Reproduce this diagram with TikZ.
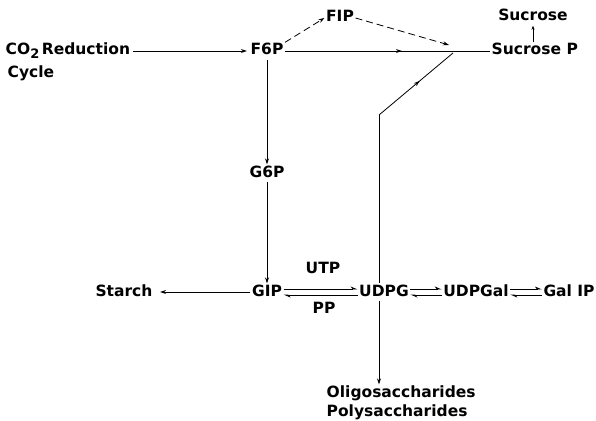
\documentclass[tikz,border=0pt]{standalone}
\usepackage{fontspec}
\setmainfont{DejaVu Sans}
\usetikzlibrary{arrows.meta,decorations.markings,calc}
\tikzset{
  lbl/.style={font=\fontsize{15.5}{18}\selectfont\bfseries, inner sep=1.5pt, text height=11pt, text depth=3pt},
  ln/.style={line width=0.8pt},
  arr/.style={ln,-{Stealth[length=6pt,width=4pt]}},
  harp/.style={ln,-{Stealth[length=6pt,width=5pt,harpoon]}},
  dsh/.style={ln,dash pattern=on 7pt off 4pt},
  midarrow/.style={postaction={decorate},decoration={markings,mark=at position #1 with {\arrow{Stealth[length=6pt,width=4pt]}}}}
}
\begin{document}
\begin{tikzpicture}[x=1pt,y=-1pt]
\useasboundingbox (0,0) rectangle (596,420);
% nodes (anchor base)
\node[lbl,anchor=base west] (co2) at (4,55) {CO\raisebox{-4pt}{\fontsize{13}{13}\selectfont 2}\,Reduction};
\node[lbl,anchor=base west] (cyc) at (6,77) {Cycle};
\node[lbl,anchor=base] (f6p) at (267,55) {F6P};
\node[lbl,anchor=base] (fip) at (340,22) {FIP};
\node[lbl,anchor=base] (suc) at (533,21) {Sucrose};
\node[lbl,anchor=base west] (sucp) at (490,55) {Sucrose P};
\node[lbl,anchor=base] (g6p) at (267,177) {G6P};
\node[lbl,anchor=base] (gip) at (267,296) {GIP};
\node[lbl,anchor=base] (utp) at (323,273) {UTP};
\node[lbl,anchor=base] (pp) at (324,313) {PP};
\node[lbl,anchor=base] (udpg) at (384,296) {UDPG};
\node[lbl,anchor=base] (udpgal) at (476,296) {UDPGal};
\node[lbl,anchor=base] (galip) at (569,296) {Gal IP};
\node[lbl,anchor=base] (starch) at (124,296) {Starch};
\node[lbl,anchor=base west] (oligo) at (325,397) {Oligosaccharides};
\node[lbl,anchor=base west] (poly) at (325,416) {Polysaccharides};
% coordinates
\coordinate (bend) at (379,115);
\coordinate (jj) at (453,53);
\coordinate (jd) at (449,45);
% connectors
\draw[arr,shorten <=1pt,shorten >=2pt] (co2.east) -- (f6p.west);
\draw[dsh,-{Stealth[length=6pt,width=4pt]}] (f6p.north east) -- (fip.west);
\draw[dsh,-{Stealth[length=6pt,width=4pt]}] (fip.east) -- (jd);
\draw[ln,midarrow=0.57] (f6p.east) -- (sucp.west);
\draw[ln] (bend |- udpg.north) -- (bend);
\draw[ln,midarrow=0.55] (bend) -- (jj);
\draw[ln,-{Stealth[length=4pt,width=3pt]}] (suc.south |- sucp.north) -- (suc.south);
\draw[arr] (f6p.south) -- (g6p.north);
\draw[arr] (g6p.south) -- (gip.north);
\draw[arr,shorten >=6pt] (gip.west) -- (starch.east);
\draw[harp] ([yshift=3pt]gip.east) -- ([yshift=3pt]udpg.west);
\draw[harp] ([yshift=-3pt]udpg.west) -- ([yshift=-3pt]gip.east);
\draw[harp] ([yshift=3pt]udpg.east) -- ([yshift=3pt]udpgal.west);
\draw[harp] ([yshift=-3pt]udpgal.west) -- ([yshift=-3pt]udpg.east);
\draw[harp] ([yshift=3pt]udpgal.east) -- ([yshift=3pt]galip.west);
\draw[harp] ([yshift=-3pt]galip.west) -- ([yshift=-3pt]udpgal.east);
\draw[arr] (bend |- udpg.south) -- (bend |- oligo.north);
\end{tikzpicture}
\end{document}
